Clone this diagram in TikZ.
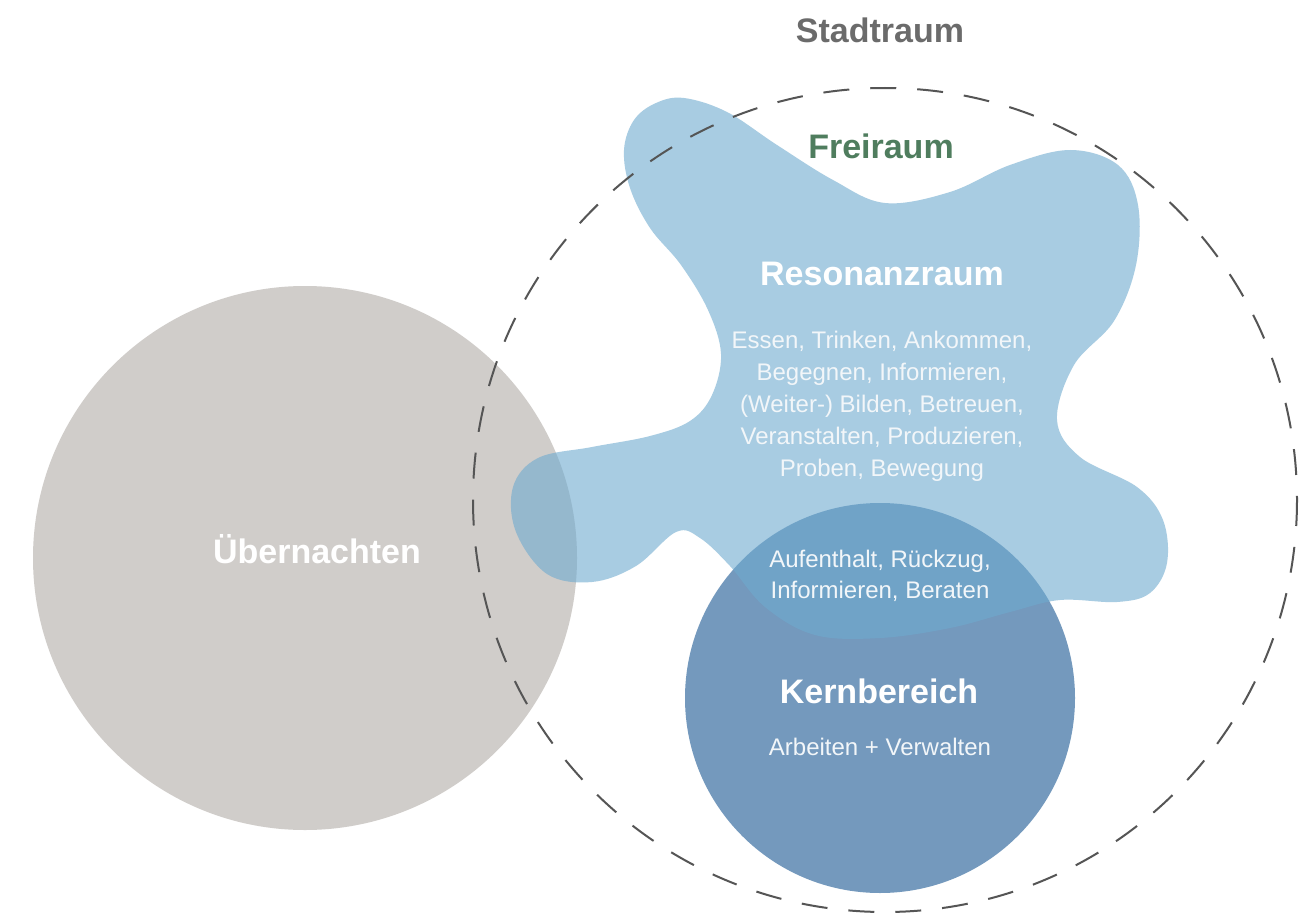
\documentclass[tikz,border=0pt]{standalone}
\usepackage{fontspec}
\setmainfont{Liberation Sans}
\definecolor{greyzone}{HTML}{D0CDCA}
\definecolor{blobblue}{RGB}{110,170,207}
\definecolor{kernblue}{HTML}{7499BD}
\definecolor{dashgrey}{HTML}{555555}
\definecolor{stadtgrey}{HTML}{6B6B6B}
\definecolor{freigreen}{HTML}{4F7D5E}
\definecolor{softwhite}{HTML}{F2F6F9}
\begin{document}
\begin{tikzpicture}[x=1pt,y=-1pt,
  title/.style={font=\fontsize{34}{40}\selectfont\bfseries, anchor=base, inner sep=0pt},
  body/.style={font=\fontsize{24}{30}\selectfont, text=softwhite, anchor=base, inner sep=0pt},
  cityline/.style={draw=dashgrey, line width=2pt, dash pattern=on 26pt off 21pt}]
\useasboundingbox (0,0) rectangle (1309,915);
\fill[white] (0,0) rectangle (1309,915);

% overnight circle
\fill[greyzone] (305,558) circle[radius=272];

% core area
\fill[kernblue] (880,698) circle[radius=195];

% resonance space (free-form blob, translucent)
\fill[blobblue, opacity=0.6] plot[smooth cycle, tension=0.6] coordinates {
  (624,150) (634,120) (656,103) (684,98) (727,112) (777,145) (833,180) (885,203)
  (950,192) (1010,165) (1070,150) (1118,165) (1138,205) (1136,265)
  (1114,321) (1074,365) (1057,420) (1080,457) (1137,487) (1163,520)
  (1167,563) (1150,593) (1117,602) (1060,600) (1010,612) (950,628)
  (880,638) (815,635) (765,607) (730,566) (700,538) (676,532)
  (636,566) (592,582) (547,574) (516,532) (513,487) (538,458)
  (592,447) (650,436) (690,421) (712,395) (721,354) (708,310)
  (681,265) (650,228) (630,188)};

% city space boundary
\draw[cityline] (885,500) circle[radius=412];

% labels
\node[title, text=stadtgrey] (stadt) at (880,43) {Stadtraum};
\node[title, text=freigreen] (frei) at (881,159) {Freiraum};
\node[title, text=white] (reso) at (882,285) {Resonanzraum};
\node[body] (r1) at (882,348) {Essen, Trinken, Ankommen,};
\node[body] (r2) at (882,380) {Begegnen, Informieren,};
\node[body] (r3) at (882,412) {(Weiter-) Bilden, Betreuen,};
\node[body] (r4) at (882,444) {Veranstalten, Produzieren,};
\node[body] (r5) at (882,476) {Proben, Bewegung};
\node[body] (a1) at (880,567) {Aufenthalt, Rückzug,};
\node[body] (a2) at (880,598) {Informieren, Beraten};
\node[title, text=white] (kern) at (879,703) {Kernbereich};
\node[body] (k1) at (880,755) {Arbeiten + Verwalten};
\node[title, text=white] (uebern) at (317,563) {Übernachten};
\end{tikzpicture}
\end{document}
